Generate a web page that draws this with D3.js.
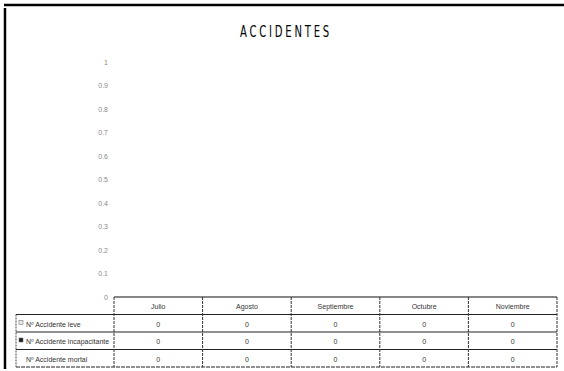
<!DOCTYPE html>
<html>
<head>
<meta charset="utf-8">
<script src="https://cdn.jsdelivr.net/npm/d3@7"></script>
<style>
  body { margin: 0; background: #fff; }
  svg { display: block; }
</style>
</head>
<body>
<div id="chart"></div>
<script>
// chart data
var months = ["Julio", "Agosto", "Septiembre", "Octubre", "Noviembre"];
var seriesNames = ["Nº Accidente leve", "Nº Accidente incapacitante", "Nº Accidente mortal"];
var leve = [0, 0, 0, 0, 0];
var incapacitante = [0, 0, 0, 0, 0];
var mortal = [0, 0, 0, 0, 0];
var yTicks = [0, 0.1, 0.2, 0.3, 0.4, 0.5, 0.6, 0.7, 0.8, 0.9, 1];

var seriesValues = [leve, incapacitante, mortal];
var seriesColors = ["#e8e8e8", "#222", "#fff"];

var width = 564, height = 371;
var plotLeft = 114, plotRight = 557, plotTop = 62, plotBottom = 297;
var tableLeft = 16, rowH = 17.5;

var svg = d3.select("#chart").append("svg")
    .attr("width", width)
    .attr("height", height)
    .style("font-family", "'Liberation Sans', Arial, sans-serif");

// outer frame (top + left edge, as in the scan)
svg.append("line")
    .attr("x1", 4).attr("x2", 564).attr("y1", 5).attr("y2", 5)
    .style("stroke", "#000").style("stroke-width", 2.5);
svg.append("line")
    .attr("x1", 5).attr("x2", 5).attr("y1", 8).attr("y2", 369)
    .style("stroke", "#000").style("stroke-width", 2.5);

// title - narrow, spaced letters
svg.append("text")
    .attr("x", 286).attr("y", 37)
    .attr("text-anchor", "middle")
    .attr("textLength", 92)
    .attr("lengthAdjust", "spacingAndGlyphs")
    .style("font-family", "'DejaVu Sans Condensed', 'Liberation Sans', sans-serif")
    .style("font-size", "16px")
    .style("letter-spacing", "4px")
    .style("fill", "#000")
    .text("ACCIDENTES");

var x = d3.scaleBand()
    .domain(months)
    .range([plotLeft, plotRight]);

var xSeries = d3.scaleBand()
    .domain(seriesNames)
    .range([0, x.bandwidth()])
    .padding(0.1);

var y = d3.scaleLinear()
    .domain([0, 1])
    .range([plotBottom, plotTop]);

// y axis labels
var yAxis = svg.append("g")
    .attr("transform", "translate(" + (plotLeft - 2) + ",0)")
    .call(d3.axisLeft(y).tickValues(yTicks).tickSize(0).tickPadding(4)
      .tickFormat(function(d) { return d3.format("")(+d.toFixed(1)); }));
yAxis.select(".domain").remove();
yAxis.selectAll("text")
    .style("font-size", "7px")
    .style("fill", "#888")
    .style("font-family", "'Liberation Sans Narrow', 'Liberation Sans', sans-serif");

// bars (all zero)
seriesValues.forEach(function(vals, si) {
  svg.append("g").selectAll("rect")
    .data(vals)
    .enter().append("rect")
    .attr("x", function(d, i) { return x(months[i]) + xSeries(seriesNames[si]); })
    .attr("width", xSeries.bandwidth())
    .attr("y", function(d) { return y(d); })
    .attr("height", function(d) { return plotBottom - y(d); })
    .style("fill", seriesColors[si])
    .style("stroke", "#000")
    .style("stroke-width", 0);
});

// data table
var table = svg.append("g").attr("class", "table");
var rowY = function(r) { return plotBottom + r * rowH; };
var tableBottom = rowY(4);

// horizontal lines
table.append("line")
    .attr("x1", plotLeft).attr("x2", plotRight)
    .attr("y1", rowY(0)).attr("y2", rowY(0))
    .style("stroke", "#111").style("stroke-width", 1.2);
[1, 2, 3, 4].forEach(function(r) {
  table.append("line")
    .attr("x1", tableLeft).attr("x2", plotRight)
    .attr("y1", rowY(r)).attr("y2", rowY(r))
    .style("stroke", "#222").style("stroke-width", 1.2)
    .style("stroke-dasharray", r == 4 ? "4,1" : null);
});

// vertical lines
table.append("line")
    .attr("x1", tableLeft).attr("x2", tableLeft)
    .attr("y1", rowY(1)).attr("y2", tableBottom)
    .style("stroke", "#444").style("stroke-dasharray", "2,1");
months.concat(["end"]).forEach(function(m, i) {
  var xx = i < months.length ? x(m) : plotRight;
  table.append("line")
    .attr("x1", xx).attr("x2", xx)
    .attr("y1", rowY(0)).attr("y2", tableBottom)
    .style("stroke", "#333").style("stroke-dasharray", "3,1");
});

// header labels
table.selectAll(".month")
    .data(months)
    .enter().append("text")
    .attr("class", "month")
    .attr("x", function(d) { return x(d) + x.bandwidth() / 2; })
    .attr("y", rowY(0) + 12)
    .attr("text-anchor", "middle")
    .style("font-size", "7px")
    .style("fill", "#333")
    .text(function(d) { return d; });

// series rows
seriesNames.forEach(function(name, si) {
  var ry = rowY(si + 1);
  table.append("rect")
    .attr("x", tableLeft + 3).attr("y", ry + 6)
    .attr("width", 4).attr("height", 4)
    .style("fill", seriesColors[si])
    .style("stroke", si == 2 ? "none" : "#666")
    .style("stroke-width", 0.5);
  table.append("text")
    .attr("x", tableLeft + 10).attr("y", ry + 12)
    .style("font-size", "7px")
    .style("fill", "#333")
    .text(name);
  table.selectAll(".v" + si)
    .data(seriesValues[si])
    .enter().append("text")
    .attr("class", "v" + si)
    .attr("x", function(d, i) { return x(months[i]) + x.bandwidth() / 2; })
    .attr("y", ry + 12)
    .attr("text-anchor", "middle")
    .style("font-size", "7px")
    .style("fill", "#333")
    .text(function(d) { return d; });
});
</script>
</body>
</html>
